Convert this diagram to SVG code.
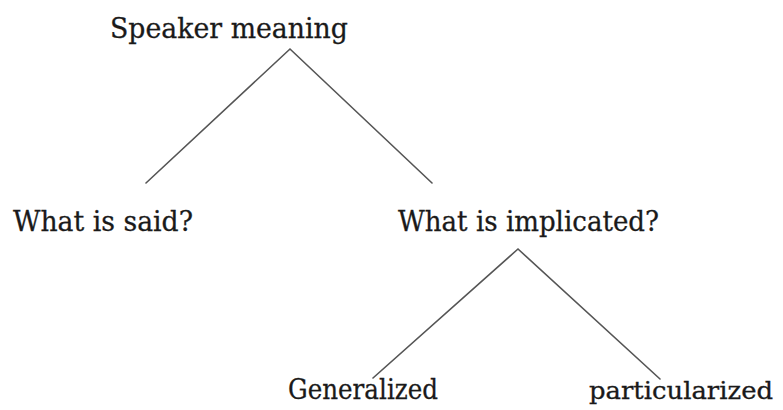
<svg xmlns="http://www.w3.org/2000/svg" width="783" height="410" viewBox="0 0 783 410">
  <style>
    .lbl { font-family: "DejaVu Serif", "Liberation Serif", serif; font-size: 28px; fill: #1a1a1a; stroke: #1a1a1a; stroke-width: 0.3; }
    .lbl.small { font-size: 23.5px; }
    .edge { stroke: #555555; stroke-width: 1.6; fill: none; stroke-linecap: round; }
  </style>
  <rect width="783" height="410" fill="#ffffff"/>
  <g id="connectors">
    <polyline class="edge" points="146,183 290,49 432,183"/>
    <polyline class="edge" points="373,378 518,249 660,379"/>
  </g>
  <g id="speaker-meaning">
    <text class="lbl" x="110" y="38" textLength="238" lengthAdjust="spacingAndGlyphs">Speaker meaning</text>
  </g>
  <g id="what-is-said">
    <text class="lbl" x="13" y="231" textLength="180" lengthAdjust="spacingAndGlyphs">What is said?</text>
  </g>
  <g id="what-is-implicated">
    <text class="lbl" x="398" y="231" textLength="261" lengthAdjust="spacingAndGlyphs">What is implicated?</text>
  </g>
  <g id="generalized">
    <text class="lbl" x="288" y="399" textLength="150" lengthAdjust="spacingAndGlyphs">Generalized</text>
  </g>
  <g id="particularized">
    <text class="lbl small" x="589" y="399" textLength="184" lengthAdjust="spacingAndGlyphs">particularized</text>
  </g>
</svg>
